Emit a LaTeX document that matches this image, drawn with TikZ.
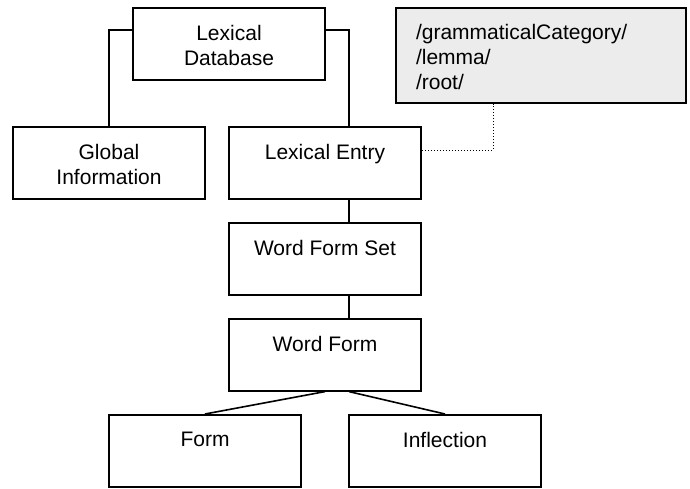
\documentclass[tikz,border=0pt]{standalone}
\usepackage{fontspec}
\setmainfont{Liberation Sans}
\usetikzlibrary{calc}

\newcommand{\boxlabel}[1]{\parbox[t][72pt][t]{192pt}{\centering\vspace{17pt}#1}}
\newcommand{\attrlabel}[1]{\parbox[t][95pt][t]{290pt}{\raggedright\vspace{16pt}\leftskip=20pt\relax #1\par}}

\begin{document}
\begin{tikzpicture}[x=1pt, y=-1pt]
        % Box and link style definitions
        \tikzset{
            entity/.style={draw=black, line width=1.6pt, inner sep=0pt, anchor=north, font=\fontsize{21}{25}\selectfont},
            attrbox/.style={entity, fill=gray!15},
            link/.style={black, line width=1.6pt},
            attrlink/.style={black, line width=1pt, dotted}
        }
        \useasboundingbox (0, 0) rectangle (690, 488);

        % ==========================================
        % BOXES (top of each box given)
        % ==========================================
        \node[entity] (db) at (229, 7) {\boxlabel{Lexical\\Database}};
        \node[entity] (global) at (109, 126) {\boxlabel{Global\\Information}};
        \node[entity] (entry) at (325, 126) {\boxlabel{Lexical Entry}};
        \node[attrbox] (attr) at (541, 7) {\attrlabel{/grammaticalCategory/\\/lemma/\\/root/}};
        \node[entity] (wfset) at (325, 222) {\boxlabel{Word Form Set}};
        \node[entity] (wform) at (325, 318) {\boxlabel{Word Form}};
        \node[entity] (form) at (205, 414) {\boxlabel{Form}};
        \node[entity] (infl) at (445, 414) {\boxlabel{Inflection}};

        % ==========================================
        % LINKS
        % ==========================================
        \draw[link] ($(db.north west)+(0, 23)$) -| (global.north);
        \draw[link] ($(db.north east)+(0, 23)$) -| ($(entry.north)+(24, 0)$);
        \draw[link] ($(entry.south)+(24, 0)$) -- ($(wfset.north)+(24, 0)$);
        \draw[link] ($(wfset.south)+(24, 0)$) -- ($(wform.north)+(24, 0)$);
        \draw[link] (wform.south) -- (form.north);
        \draw[link] ($(wform.south)+(24, 0)$) -- (infl.north);

        % Attribute link (dotted)
        \draw[attrlink] ($(entry.north east)+(0, 24)$) -| ($(attr.south)+(-48, 0)$);
    \end{tikzpicture}
\end{document}
